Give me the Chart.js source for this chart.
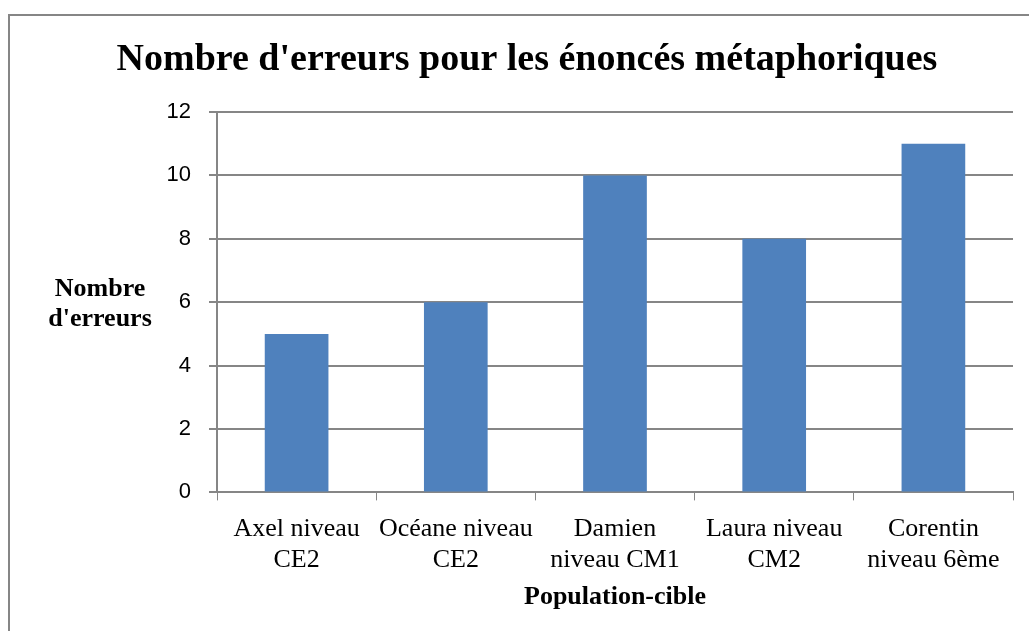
<!DOCTYPE html>
<html lang="fr">
<head>
  <meta charset="UTF-8">
  <title>Nombre d'erreurs pour les énoncés métaphoriques</title>
  <script src="https://cdn.jsdelivr.net/npm/chart.js"></script>
  <style>
    html, body { margin: 0; padding: 0; background: #fff; }
    #wrap { width: 1029px; height: 631px; position: relative; }
  </style>
</head>
<body>
  <div id="wrap"><canvas id="chart"></canvas></div>
  <script>
    // données du graphique
    const categories = [
      ['Axel niveau', 'CE2'],
      ['Océane niveau', 'CE2'],
      ['Damien', 'niveau CM1'],
      ['Laura niveau', 'CM2'],
      ['Corentin', 'niveau 6ème']
    ];
    const errors = [5, 6, 10, 8, 11];
    const yTicks = [0, 2, 4, 6, 8, 10, 12];

    const chartTitle = "Nombre d'erreurs pour les énoncés métaphoriques";
    const yTitle = ['Nombre', "d'erreurs"];
    const xTitle = 'Population-cible';

    const grey = '#868686';
    const serif = '"Liberation Serif", "Times New Roman", serif';

    // cadre, titre et titre de l'axe Y (horizontal comme dans Excel)
    const decor = {
      id: 'decor',
      beforeDraw(chart) {
        const c = chart.ctx;
        c.save();
        c.strokeStyle = grey;
        c.lineWidth = 2;
        c.strokeRect(9, 15, 1100, 700);
        c.restore();
      },
      afterDraw(chart) {
        const c = chart.ctx;
        c.save();
        c.fillStyle = '#000';
        c.textAlign = 'center';
        c.textBaseline = 'middle';
        c.font = 'bold 38px ' + serif;
        c.fillText(chartTitle, 527, 60);
        c.font = 'bold 26px ' + serif;
        c.fillText(yTitle[0], 100, 289);
        c.fillText(yTitle[1], 100, 319);
        c.restore();
      }
    };

    new Chart(document.getElementById('chart'), {
      type: 'bar',
      data: {
        labels: categories,
        datasets: [{
          data: errors,
          backgroundColor: '#4F81BD',
          borderWidth: 0,
          barPercentage: 0.4,
          categoryPercentage: 1
        }]
      },
      options: {
        responsive: true,
        maintainAspectRatio: false,
        animation: false,
        layout: { padding: { top: 112, right: 16, bottom: 12, left: 0 } },
        plugins: {
          legend: { display: false },
          tooltip: { enabled: false }
        },
        scales: {
          x: {
            grid: { display: true, drawOnChartArea: false, drawTicks: true, tickLength: 8, color: grey, offset: true },
            border: { display: true, color: grey, width: 2 },
            ticks: { color: '#000', padding: 13, maxRotation: 0, autoSkip: false, font: { family: serif, size: 26, lineHeight: 1.2 } },
            title: { display: true, text: xTitle, color: '#000', padding: { top: -7, bottom: 6 }, font: { family: serif, size: 26, weight: 'bold', lineHeight: 1.2 } }
          },
          y: {
            min: 0,
            max: 12,
            afterFit(scale) { scale.width = 217; },
            afterBuildTicks(scale) { scale.ticks = yTicks.map(v => ({ value: v })); },
            grid: { color: grey, lineWidth: 2, tickLength: 8 },
            border: { display: true, color: grey, width: 2 },
            ticks: { color: '#000', padding: 18, font: { family: '"Liberation Sans", Arial, sans-serif', size: 22 } }
          }
        }
      },
      plugins: [decor]
    });
  </script>
</body>
</html>
